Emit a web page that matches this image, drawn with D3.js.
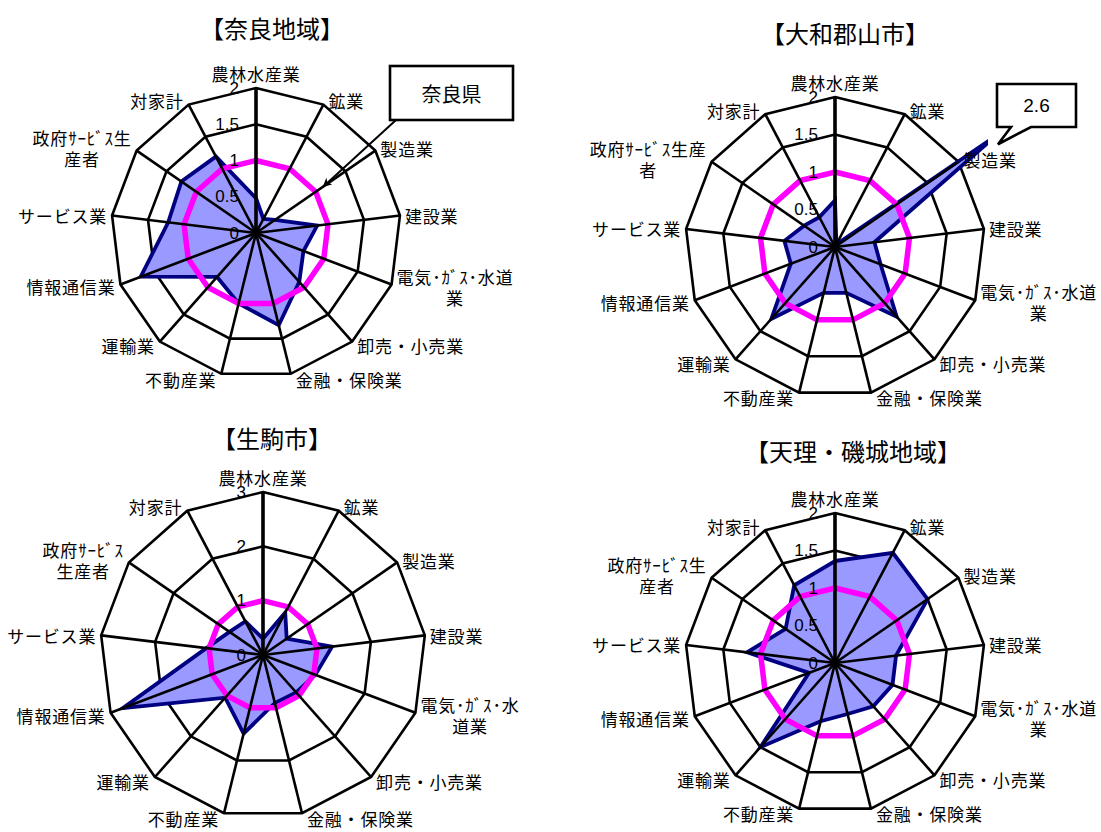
<!DOCTYPE html>
<html><head><meta charset="utf-8">
<script src="https://cdn.jsdelivr.net/npm/d3@7"></script>
<style>body{margin:0;background:#fff}svg{display:block}</style>
</head><body><svg id="c" width="1101" height="832"></svg>
<script>
// ---- data ----
const categories = ["農林水産業","鉱業","製造業","建設業","電気･ｶﾞｽ･水道業","卸売・小売業","金融・保険業","不動産業","運輸業","情報通信業","サービス業","政府ｻｰﾋﾞｽ生産者","対家計"];
const naraRegionValues = [0.48, 0.22, 0.32, 0.85, 0.70, 0.90, 1.31, 1.00, 0.81, 1.70, 1.22, 1.25, 1.19];
const koriyamaValues   = [0.62, 0.04, 2.60, 0.53, 0.65, 1.24, 0.63, 0.63, 1.28, 0.63, 0.68, 0.50, 0.45];
const ikomaValues      = [0.30, 0.88, 0.53, 1.28, 1.03, 0.92, 0.91, 1.49, 1.05, 2.76, 1.05, 0.75, 0.70];
const tenriValues      = [1.36, 1.66, 1.50, 0.82, 0.82, 0.77, 0.70, 0.80, 1.50, 0.37, 1.18, 0.80, 1.17];
const prefValues       = [1, 1, 1, 1, 1, 1, 1, 1, 1, 1, 1, 1, 1];
const ticksTo2 = [0, 0.5, 1, 1.5, 2];
const ticksTo3 = [0, 1, 2, 3];
const titles = ["【奈良地域】", "【大和郡山市】", "【生駒市】", "【天理・磯城地域】"];
const prefName = "奈良県";
// label line breaks as shown in each chart
const labelsA = ["農林水産業","鉱業","製造業","建設業","電気･ｶﾞｽ･水道\n業","卸売・小売業","金融・保険業","不動産業","運輸業","情報通信業","サービス業","政府ｻｰﾋﾞｽ生\n産者","対家計"];
const labelsB = ["農林水産業","鉱業","製造業","建設業","電気･ｶﾞｽ･水道\n業","卸売・小売業","金融・保険業","不動産業","運輸業","情報通信業","サービス業","政府ｻｰﾋﾞｽ生産\n者","対家計"];
const labelsC = ["農林水産業","鉱業","製造業","建設業","電気･ｶﾞｽ･水\n道業","卸売・小売業","金融・保険業","不動産業","運輸業","情報通信業","サービス業","政府ｻｰﾋﾞｽ\n生産者","対家計"];

// ---- layout ----
const charts = [
  {title: titles[0], values: naraRegionValues, labels: labelsA, ticks: ticksTo2, cx: 256, cy: 233, R: 145, tx: 272, ty: 27, note: "arrow"},
  {title: titles[1], values: koriyamaValues,   labels: labelsB, ticks: ticksTo2, cx: 835, cy: 247, R: 150, tx: 845, ty: 32, note: "callout"},
  {title: titles[2], values: ikomaValues,      labels: labelsC, ticks: ticksTo3, cx: 263, cy: 655, R: 163, tx: 272, ty: 437},
  {title: titles[3], values: tenriValues,      labels: labelsA, ticks: ticksTo2, cx: 835, cy: 663, R: 150, tx: 853, ty: 450}
];

const svg = d3.select("#c");
const defs = svg.append("defs");
defs.append("marker").attr("id","ah").attr("viewBox","0 0 10 10").attr("refX",9).attr("refY",5)
  .attr("markerWidth",9).attr("markerHeight",9).attr("orient","auto-start-reverse")
  .attr("markerUnits","userSpaceOnUse")
  .append("path").attr("d","M0,0 L10,5 L0,10 L3,5 Z").attr("fill","#000");

const JP = "'Noto Sans CJK JP','Noto Sans',sans-serif";
const angle = d3.scaleLinear().domain([0, categories.length]).range([0, 2*Math.PI]);

charts.forEach((c, ci) => {
  const max = d3.max(c.ticks);
  const r = d3.scaleLinear().domain([0, max]).range([0, c.R]);
  const g = svg.append("g").attr("transform", `translate(${c.cx},${c.cy})`);
  const pt = (i, v) => [Math.sin(angle(i))*r(v), -Math.cos(angle(i))*r(v)];
  const idx = d3.range(categories.length);

  // title
  svg.append("text").attr("x", c.tx).attr("y", c.ty).attr("text-anchor","middle")
    .attr("dominant-baseline","central").attr("font-family", JP).attr("font-size", 24)
    .attr("font-weight", 400).text(c.title);

  // ring gridlines
  const ringLine = d3.lineRadial().angle((d) => angle(d[0])).radius(d => r(d[1])).curve(d3.curveLinearClosed);
  c.ticks.filter(t => t >= 1).forEach(t => {
    g.append("path").attr("d", ringLine(idx.map(i => [i, t])))
      .attr("fill","none").attr("stroke","#000").attr("stroke-width",2.6).attr("stroke-linejoin","miter");
  });

  // clip to plot area
  const clipId = "clip" + ci;
  defs.append("clipPath").attr("id", clipId).append("rect")
    .attr("x", -c.R - 3).attr("y", -c.R - 3).attr("width", 2*c.R + 6).attr("height", 2*c.R + 6);

  // data area
  g.append("path").attr("clip-path", `url(#${clipId})`)
    .attr("d", ringLine(c.values.map((v,i) => [i, v])))
    .attr("fill","#9999FF").attr("stroke","#000080").attr("stroke-width",3.8).attr("stroke-linejoin","miter");

  // prefecture line
  g.append("path").attr("d", ringLine(prefValues.map((v,i) => [i, v])))
    .attr("fill","none").attr("stroke","#FF00FF").attr("stroke-width",5.5).attr("stroke-linejoin","miter");

  // tick labels
  c.ticks.forEach(t => {
    g.append("text").attr("x", -17).attr("y", -r(t)).attr("text-anchor","end")
      .attr("dominant-baseline","central").attr("font-family","'Liberation Sans',Arial,sans-serif")
      .attr("font-size", 17).text(String(t));
  });

  // spokes
  idx.forEach(i => {
    const [x, y] = pt(i, max);
    g.append("line").attr("x1",0).attr("y1",0).attr("x2",x).attr("y2",y)
      .attr("stroke","#000").attr("stroke-width", i === 0 ? 3.6 : 2.6);
  });
  g.append("circle").attr("r",4).attr("fill","#000");

  // category labels
  const fs = 17, lh = 21;
  idx.forEach(i => {
    const a = angle(i), s = Math.sin(a), co = Math.cos(a);
    const [vx, vy] = pt(i, max);
    const lines = c.labels[i].split("\n");
    const t = g.append("text").attr("font-family", JP).attr("font-size", fs).attr("text-anchor","middle")
      .attr("dominant-baseline","central").attr("letter-spacing", 0.8);
    const spans = lines.map(ln => t.append("tspan").text(ln));
    const w = d3.max(spans, sp => sp.node().getComputedTextLength());
    const h = lines.length * lh;
    let bx, by;
    if (s > 0.15) bx = vx + 5 + w/2; else if (s < -0.15) bx = vx - 5 - w/2; else bx = vx;
    if (Math.abs(s) <= 0.15) by = vy - co*(h/2 + 5); else by = vy - co*5;
    spans.forEach((sp, k) => sp.attr("x", bx).attr("y", by - h/2 + lh*(k + 0.5)));
  });

  // annotations
  if (c.note === "arrow") {
    const bx = 390 - c.cx, by = 66 - c.cy, bw = 123, bh = 54;
    const [ax, ay] = pt(2, 1.13);
    g.append("line").attr("x1", bx + 6).attr("y1", by + bh).attr("x2", ax).attr("y2", ay)
      .attr("stroke","#000").attr("stroke-width",2).attr("marker-end","url(#ah)");
    g.append("rect").attr("x", bx).attr("y", by).attr("width", bw).attr("height", bh)
      .attr("fill","#fff").attr("stroke","#000").attr("stroke-width",2.6);
    g.append("text").attr("x", bx + bw/2).attr("y", by + bh/2).attr("text-anchor","middle")
      .attr("dominant-baseline","central").attr("font-family", JP).attr("font-size", 20).text(prefName);
  }
  if (c.note === "callout") {
    const k = c.values.indexOf(d3.max(c.values));
    const [tx0, ty0] = pt(k, c.values[k]);
    const tipX = Math.min(tx0, c.R + 3) + 10, tipY = ty0 + 8;
    const bx = 997 - c.cx, by = 84 - c.cy, bw = 79, bh = 43;
    g.append("path")
      .attr("d", `M${bx},${by} H${bx+bw} V${by+bh} H${bx+34} L${tipX},${tipY} L${bx+14},${by+bh} H${bx} Z`)
      .attr("fill","#fff").attr("stroke","#000").attr("stroke-width",2.6).attr("stroke-linejoin","miter");
    g.append("text").attr("x", bx + bw/2).attr("y", by + bh/2).attr("text-anchor","middle")
      .attr("dominant-baseline","central").attr("font-family","'Liberation Sans',Arial,sans-serif")
      .attr("font-size", 19).text(d3.format(".1f")(c.values[k]));
  }
});
</script></body></html>
